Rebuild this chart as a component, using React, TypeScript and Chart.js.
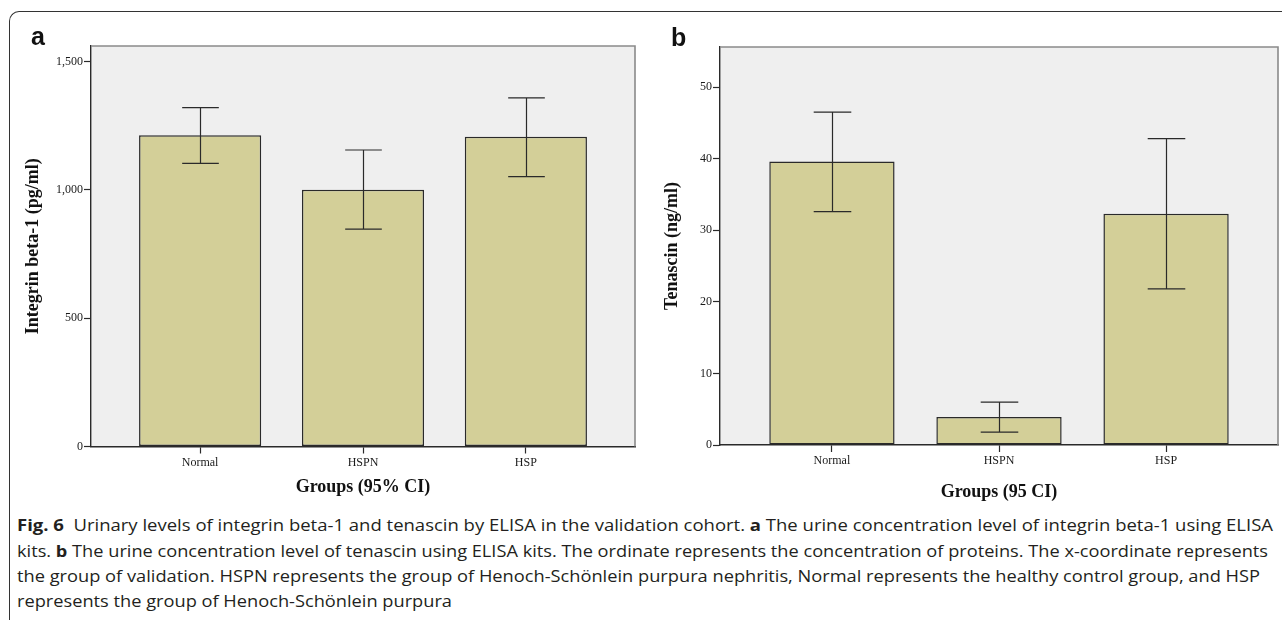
import React, { useEffect, useRef } from 'react';
import { Chart, registerables } from 'chart.js';

Chart.register(...registerables);
Chart.defaults.font.family = "'Liberation Serif', 'Times New Roman', serif";

// ---------- data ----------
const groups = ['Normal', 'HSPN', 'HSP'];
const groupPositions = [0, 1, 2];

const integrinMean = [1212, 1000, 1207];
const integrinLower = [1103, 847, 1051];
const integrinUpper = [1320, 1155, 1358];
const integrinTicks = [0, 500, 1000, 1500];
const integrinMax = 1560;

const tenascinMean = [39.6, 3.9, 32.3];
const tenascinLower = [32.6, 1.8, 21.8];
const tenascinUpper = [46.5, 6.0, 42.8];
const tenascinTicks = [0, 10, 20, 30, 40, 50];
const tenascinMax = 55.6;

// ---------- style ----------
const BAR_FILL = '#d3cf98';
const INK = '#2a2a2a';
const PLOT_BG = '#efefef';
const FRAME = '#8a8a8a';

type PanelProps = {
  left: number;
  width: number;
  height: number;
  means: number[];
  lower: number[];
  upper: number[];
  yTicks: number[];
  yMax: number;
  yTitle: string;
  xTitle: string;
  padTop: number;
  padRight: number;
  yAxisWidth: number;
  xAxisHeight: number;
  yTitlePad: number;
  xTitlePad: number;
};

function Panel(p: PanelProps) {
  const ref = useRef<HTMLCanvasElement | null>(null);
  useEffect(() => {
    if (!ref.current) return;
    const frame = {
      id: 'plotFrame',
      beforeDraw(chart: any) {
        const { ctx, chartArea: a } = chart;
        ctx.save();
        ctx.fillStyle = PLOT_BG;
        ctx.fillRect(a.left, a.top, a.right - a.left, a.bottom - a.top);
        ctx.restore();
      },
      afterDraw(chart: any) {
        const { ctx, chartArea: a } = chart;
        ctx.save();
        ctx.strokeStyle = FRAME;
        ctx.lineWidth = 1.6;
        ctx.beginPath();
        ctx.moveTo(a.left, a.top);
        ctx.lineTo(a.right, a.top);
        ctx.lineTo(a.right, a.bottom);
        ctx.stroke();
        ctx.restore();
      },
    };
    const errorBars = {
      id: 'errorBars',
      afterDatasetsDraw(chart: any) {
        const { ctx } = chart;
        const xs = chart.scales.x;
        const ys = chart.scales.y;
        const meta = chart.getDatasetMeta(0);
        ctx.save();
        ctx.strokeStyle = INK;
        ctx.lineWidth = 1.2;
        p.lower.forEach((lo, i) => {
          const x = Math.round(xs.getPixelForValue(groupPositions[i])) + 0.5;
          const yLo = ys.getPixelForValue(lo);
          const yHi = ys.getPixelForValue(p.upper[i]);
          const half = meta.data[i].width * 0.15;
          ctx.beginPath();
          ctx.moveTo(x, yLo);
          ctx.lineTo(x, yHi);
          ctx.moveTo(x - half, yLo);
          ctx.lineTo(x + half, yLo);
          ctx.moveTo(x - half, yHi);
          ctx.lineTo(x + half, yHi);
          ctx.stroke();
        });
        ctx.restore();
      },
    };
    const chart = new Chart(ref.current, {
      type: 'bar',
      data: {
        datasets: [
          {
            data: p.means.map((m, i) => ({ x: groupPositions[i], y: m })),
            backgroundColor: BAR_FILL,
            borderColor: INK,
            borderWidth: 1.5,
            borderSkipped: false,
            barPercentage: 0.75,
            categoryPercentage: 1,
          },
        ],
      },
      plugins: [frame, errorBars],
      options: {
        responsive: false,
        animation: false,
        layout: { padding: { top: p.padTop, right: p.padRight, left: 0, bottom: 0 } },
        plugins: { legend: { display: false }, tooltip: { enabled: false } },
        scales: {
          x: {
            type: 'linear',
            min: -0.67,
            max: 2.67,
            offset: false,
            afterBuildTicks: (s: any) => {
              s.ticks = groupPositions.map((v) => ({ value: v }));
            },
            afterFit: (s: any) => {
              s.height = p.xAxisHeight;
            },
            grid: {
              display: true,
              drawOnChartArea: false,
              drawTicks: true,
              tickLength: 7,
              tickColor: INK,
              tickWidth: 1.2,
              offset: false,
            },
            border: { display: true, color: INK, width: 1.4 },
            ticks: {
              autoSkip: false,
              maxRotation: 0,
              padding: 2,
              color: '#1a1a1a',
              font: { size: 12 },
              callback: (_v: any, i: number) => groups[i],
            },
            title: {
              display: true,
              text: p.xTitle,
              color: '#111',
              font: { size: 18, weight: 'bold' },
              padding: { top: 0, bottom: p.xTitlePad },
            },
          },
          y: {
            type: 'linear',
            min: 0,
            max: p.yMax,
            afterBuildTicks: (s: any) => {
              s.ticks = p.yTicks.map((v) => ({ value: v }));
            },
            afterFit: (s: any) => {
              s.width = p.yAxisWidth;
            },
            grid: {
              display: true,
              drawOnChartArea: false,
              drawTicks: true,
              tickLength: 7,
              tickColor: INK,
              tickWidth: 1.2,
            },
            border: { display: true, color: INK, width: 1.4 },
            ticks: {
              padding: 1,
              color: '#1a1a1a',
              font: { size: 12 },
              callback: (v: any) => Number(v).toLocaleString('en-US'),
            },
            title: {
              display: true,
              text: p.yTitle,
              color: '#111',
              font: { size: 18, weight: 'bold' },
              padding: { top: p.yTitlePad, bottom: 0 },
            },
          },
        },
      } as any,
    });
    return () => chart.destroy();
  }, []);
  return (
    <canvas
      ref={ref}
      width={p.width}
      height={p.height}
      style={{ position: 'absolute', left: p.left, top: 0, width: p.width, height: p.height }}
    />
  );
}

const captionTargets = [1256, 1251, 1243, 435];
const captionLeft = 17;
const captionBaseline0 = 531.7;
const captionPitch = 25.2;

export default function App() {
  const lineRefs = useRef<(HTMLDivElement | null)[]>([]);
  useEffect(() => {
    const fit = () => {
      lineRefs.current.forEach((el, i) => {
        if (!el) return;
        el.style.transform = 'none';
        const w = el.getBoundingClientRect().width;
        if (w > 0) el.style.transform = `scaleX(${captionTargets[i] / w})`;
      });
    };
    fit();
    const fonts = (document as any).fonts;
    if (fonts && fonts.ready) fonts.ready.then(fit);
  }, []);

  const fontSize = 16.2;
  const baselineOffset = fontSize * 0.888;
  const lineStyle = (i: number): React.CSSProperties => ({
    position: 'absolute',
    left: captionLeft,
    top: captionBaseline0 + i * captionPitch - baselineOffset,
    whiteSpace: 'nowrap',
    fontFamily: "'Open Sans', 'Noto Sans', sans-serif",
    fontSize,
    lineHeight: 1,
    color: '#231f20',
    transformOrigin: 'left top',
  });
  const labelStyle = (left: number, top: number): React.CSSProperties => ({
    position: 'absolute',
    left,
    top,
    fontFamily: "'Liberation Sans', Arial, sans-serif",
    fontWeight: 'bold',
    fontSize: 25,
    lineHeight: 1,
    color: '#111',
  });

  return (
    <div
      style={{
        position: 'fixed',
        left: 0,
        top: 0,
        width: 1282,
        height: 620,
        overflow: 'hidden',
        background: '#fff',
      }}
    >
      <div
        style={{
          position: 'absolute',
          left: 9,
          top: 11,
          width: 1400,
          height: 800,
          borderTop: '1.4px solid #333',
          borderLeft: '1.4px solid #333',
          borderTopLeftRadius: 10,
        }}
      />
      <Panel
        left={0}
        width={640}
        height={510}
        means={integrinMean}
        lower={integrinLower}
        upper={integrinUpper}
        yTicks={integrinTicks}
        yMax={integrinMax}
        yTitle="Integrin beta-1 (pg/ml)"
        xTitle="Groups (95% CI)"
        padTop={46}
        padRight={5}
        yAxisWidth={91}
        xAxisHeight={63.5}
        yTitlePad={23}
        xTitlePad={12}
      />
      <Panel
        left={640}
        width={642}
        height={510}
        means={tenascinMean}
        lower={tenascinLower}
        upper={tenascinUpper}
        yTicks={tenascinTicks}
        yMax={tenascinMax}
        yTitle="Tenascin (ng/ml)"
        xTitle="Groups (95 CI)"
        padTop={47}
        padRight={4}
        yAxisWidth={80}
        xAxisHeight={65}
        yTitlePad={22}
        xTitlePad={7}
      />
      <div style={labelStyle(31, 24)}>a</div>
      <div style={labelStyle(671, 25)}>b</div>

      <div ref={(el) => { lineRefs.current[0] = el; }} style={lineStyle(0)}>
        <b>Fig. 6</b>&nbsp;&nbsp;Urinary levels of integrin beta-1 and tenascin by ELISA in the validation cohort. <b>a</b> The urine concentration level of integrin beta-1 using ELISA
      </div>
      <div ref={(el) => { lineRefs.current[1] = el; }} style={lineStyle(1)}>
        kits. <b>b</b> The urine concentration level of tenascin using ELISA kits. The ordinate represents the concentration of proteins. The x-coordinate represents
      </div>
      <div ref={(el) => { lineRefs.current[2] = el; }} style={lineStyle(2)}>
        the group of validation. HSPN represents the group of Henoch-Schönlein purpura nephritis, Normal represents the healthy control group, and HSP
      </div>
      <div ref={(el) => { lineRefs.current[3] = el; }} style={lineStyle(3)}>
        represents the group of Henoch-Schönlein purpura
      </div>
    </div>
  );
}
